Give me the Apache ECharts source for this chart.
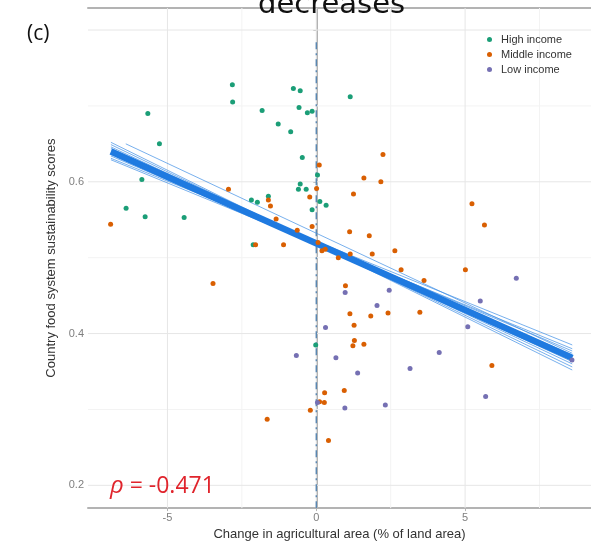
<!DOCTYPE html>
<html>
<head>
<meta charset="utf-8">
<script src="https://cdn.jsdelivr.net/npm/echarts@6/dist/echarts.min.js"></script>
<style>
  html, body { margin: 0; padding: 0; background: #fff; }
  #chart { width: 591px; height: 546px; }
</style>
</head>
<body>
<div id="chart"></div>
<script>
// points: [change in agricultural area, score]
const highIncome = [[-2.82,0.728],[-2.81,0.705],[-5.66,0.690],[-5.27,0.650],[-1.82,0.694],[-1.28,0.676],
  [-0.86,0.666],[-0.77,0.723],[-0.54,0.720],[-0.58,0.698],[-0.30,0.691],[-0.14,0.693],[-0.47,0.632],
  [-5.86,0.603],[-6.39,0.565],[-5.75,0.554],[-4.44,0.553],[-2.18,0.576],[-1.98,0.573],[-1.61,0.581],
  [-0.54,0.597],[-0.60,0.590],[-0.34,0.590],[-0.14,0.563],[0.04,0.609],[0.12,0.574],[0.33,0.569],
  [-2.12,0.517],[1.14,0.712],[-0.02,0.385]];
const middleIncome = [[-6.91,0.544],[-2.95,0.590],[-1.61,0.576],[-1.54,0.568],[-1.35,0.551],[-0.64,0.536],
  [-0.22,0.580],[0.01,0.591],[-0.14,0.541],[0.10,0.622],[-2.04,0.517],[-1.10,0.517],[0.06,0.520],
  [2.24,0.636],[1.60,0.605],[2.17,0.600],[1.25,0.584],[5.23,0.571],[5.65,0.543],[1.12,0.534],
  [1.78,0.529],[0.19,0.509],[0.30,0.511],[-3.47,0.466],[0.28,0.322],[0.11,0.310],[0.27,0.309],
  [-0.20,0.299],[-1.65,0.287],[0.41,0.259],[0.74,0.500],[1.14,0.505],[1.88,0.505],[2.64,0.509],
  [2.85,0.484],[3.62,0.470],[5.01,0.484],[0.98,0.463],[1.13,0.426],[1.83,0.423],[2.41,0.427],
  [3.48,0.428],[1.27,0.411],[1.28,0.391],[1.23,0.384],[1.60,0.386],[5.90,0.358],[0.94,0.325]];
const lowIncome = [[0.31,0.408],[-0.67,0.371],[0.04,0.309],[0.97,0.454],[2.45,0.457],[2.04,0.437],
  [5.51,0.443],[6.72,0.473],[5.09,0.409],[0.66,0.368],[4.13,0.375],[1.39,0.348],[3.15,0.354],
  [5.69,0.317],[0.96,0.302],[2.32,0.306],[8.59,0.365]];

// fitted lines (x1, y1, x2, y2), thin bootstrap fits plus the main fit
const bootLines = [[-6.9,0.652,8.6,0.352],[-6.9,0.649,8.6,0.356],[-6.9,0.646,8.6,0.360],
  [-6.9,0.644,8.6,0.363],[-6.9,0.637,8.6,0.372],[-6.9,0.634,8.6,0.377],[-6.9,0.631,8.6,0.385],
  [-6.9,0.629,8.6,0.380],[-6.4,0.650,8.6,0.374],[-6.9,0.642,8.6,0.366]];
const mainLine = [[-6.9,0.640],[8.6,0.368]];
const zeroLine = [[0,0.784],[0,0.17]];

const xMajor = [-5, 0, 5];
const xMinor = [-2.5, 2.5, 7.5];
const yMajor = [0.2, 0.4, 0.6, 0.8];
const yMinor = [0.3, 0.5, 0.7];
const yLabels = [0.2, 0.4, 0.6];
const rho = -0.471;

const xMin = -7.67, xMax = 9.23, yMin = 0.17, yMax = 0.829;

const chart = echarts.init(document.getElementById('chart'), null, { renderer: 'canvas' });

const series = [];
const gridLine = (data, color) => series.push({
  type: 'line', data: data, symbol: 'none', silent: true, z: 0,
  lineStyle: { color: color, width: 1 }
});
xMinor.forEach(v => gridLine([[v, yMin], [v, yMax]], '#f3f3f3'));
yMinor.forEach(v => gridLine([[xMin, v], [xMax, v]], '#f3f3f3'));
xMajor.forEach(v => gridLine([[v, yMin], [v, yMax]], '#e6e6e6'));
yMajor.forEach(v => gridLine([[xMin, v], [xMax, v]], '#e6e6e6'));

series.push({ type: 'line', data: zeroLine, symbol: 'none', z: 2, silent: true,
  lineStyle: { color: '#5a88b3', width: 1.4, type: [7, 4, 2, 4] } });

const dot = (name, data, color) => ({
  name: name, type: 'scatter', data: data, symbolSize: 5, z: 5,
  itemStyle: { color: color, opacity: 1 }
});
series.push(dot('High income', highIncome, '#1B9E77'));
series.push(dot('Middle income', middleIncome, '#D95F02'));
series.push(dot('Low income', lowIncome, '#7570B3'));

bootLines.forEach(l => {
  series.push({ type: 'line', data: [[l[0], l[1]], [l[2], l[3]]], symbol: 'none', z: 3, silent: true,
    lineStyle: { color: '#3f8fe6', width: 1, opacity: 0.7 } });
});
series.push({ type: 'line', data: mainLine, symbol: 'none', z: 4, silent: true,
  lineStyle: { color: '#1f7ae0', width: 6.5 } });

const axisGray = '#b3b3b3';
chart.setOption({
  animation: false,
  backgroundColor: '#fff',
  grid: { left: 88, top: 8, right: 0, bottom: 31 },
  legend: {
    data: ['High income', 'Middle income', 'Low income'],
    orient: 'vertical', left: 482, top: 29, itemGap: 4,
    icon: 'circle', itemWidth: 5, itemHeight: 5,
    textStyle: { fontFamily: 'Liberation Sans', fontSize: 11, color: '#333', padding: [0, 0, 0, 4] }
  },
  xAxis: [{
    type: 'value', min: xMin, max: xMax,
    name: 'Change in agricultural area (% of land area)', nameLocation: 'middle', nameGap: 17,
    nameTextStyle: { fontFamily: 'Liberation Sans', fontSize: 13, color: '#333' },
    axisLine: { show: true, lineStyle: { color: axisGray, width: 2 } },
    axisTick: { show: true, customValues: xMajor, length: 3, lineStyle: { color: axisGray } },
    axisLabel: { customValues: xMajor, fontFamily: 'Liberation Sans', fontSize: 11, color: '#7f7f7f', margin: 4 },
    splitLine: { show: false }
  }, {
    type: 'value', position: 'top', min: xMin, max: xMax,
    axisLine: { show: true, lineStyle: { color: axisGray, width: 2 } },
    axisTick: { show: false }, axisLabel: { show: false }, splitLine: { show: false }
  }],
  yAxis: {
    type: 'value', min: yMin, max: yMax,
    name: 'Country food system sustainability scores', nameLocation: 'middle', nameGap: 25,
    nameTextStyle: { fontFamily: 'Liberation Sans', fontSize: 13, color: '#333' },
    axisLine: { show: true, lineStyle: { color: axisGray, width: 2 } },
    axisTick: { show: true, customValues: yMajor, length: 3, lineStyle: { color: axisGray } },
    axisLabel: { customValues: yLabels, formatter: v => v.toFixed(1),
      fontFamily: 'Liberation Sans', fontSize: 11, color: '#7f7f7f', margin: 4 },
    splitLine: { show: false }
  },
  graphic: [
    { type: 'text', left: 258, top: -9, z: 100,
      style: { text: 'decreases', font: '29px "DejaVu Sans"', fill: '#111' } },
    { type: 'text', left: 27, top: 24,
      style: { text: '(c)', font: '21px "Open Sans"', fill: '#111' } },
    { type: 'text', left: 110, top: 474, z: 100,
      style: { text: '{r|ρ} = ' + rho.toFixed(3),
        font: '23px "Open Sans"', fill: '#e0242c',
        rich: { r: { fontStyle: 'italic', fontFamily: 'Open Sans', fontSize: 24, fill: '#e0242c' } } } }
  ],
  series: series
});
</script>
</body>
</html>
